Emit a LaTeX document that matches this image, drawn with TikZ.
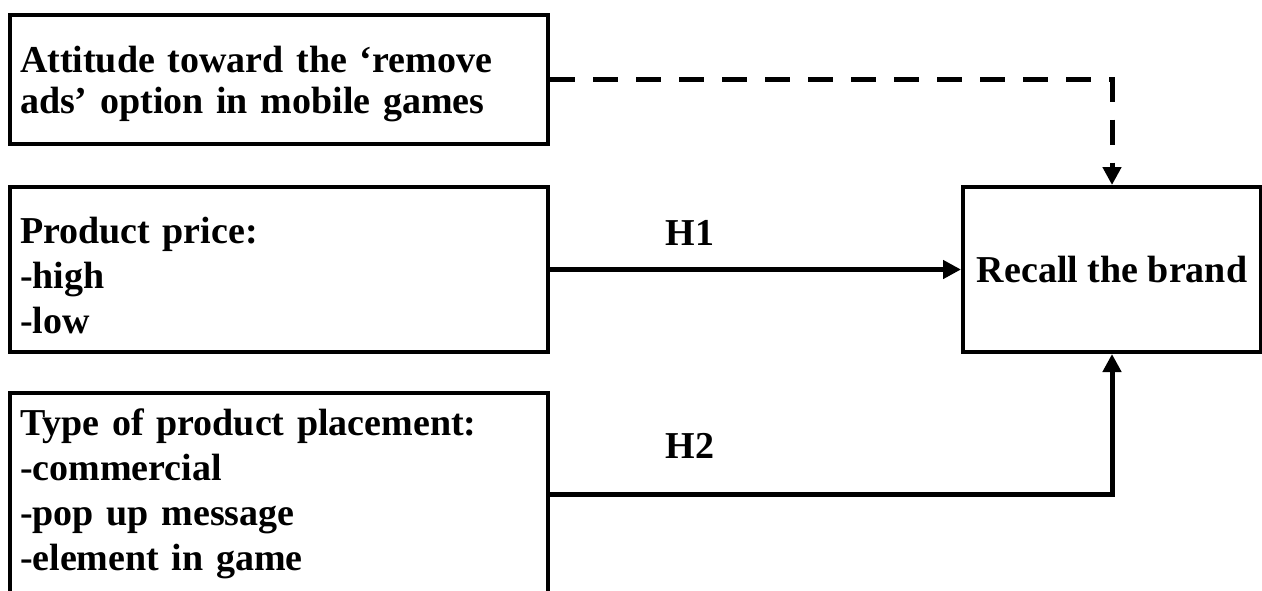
\documentclass[tikz,border=0pt]{standalone}
\usepackage{fontspec}
\setmainfont{Liberation Serif}
\usetikzlibrary{arrows.meta}

\begin{document}
\begin{tikzpicture}[
        x=0.5pt, y=-0.5pt,
        every node/.style={font=\fontsize{19}{22.5}\selectfont\bfseries},
        box/.style={draw, line width=2pt, align=left, inner xsep=5pt, text width=259pt, minimum height=#1},
        outcome/.style={draw, line width=2pt, align=center, inner xsep=1pt, minimum width=149pt, minimum height=82.5pt},
        link/.style={line width=2.5pt, -{Triangle[length=9pt, width=9pt]}},
        moderator/.style={link, dash pattern=on 12.5pt off 9pt}
      ]

      \useasboundingbox (0,0) rectangle (1262,590);
      \clip (0,0) rectangle (1262,590);

      \node[box=64.5pt, font=\fontsize{19}{20.5}\selectfont\bfseries] (attitude) at (279,79.5) {\rule{0pt}{18pt}Attitude toward the ‘remove\\ ads’ option in mobile games};
      \node[box=82.5pt] (price) at (279,269.5) {\rule{0pt}{19pt}Product price:\\ -high\\ -low};
      \node[box=101pt] (placement) at (279,494) {Type of product placement:\\ -commercial\\ -pop up message\\ -element in game};
      \node[outcome] (recall) at (1112,269.5) {Recall the brand};

      \draw[moderator] (attitude.east) -| (recall.north);
      \draw[link] (price.east) -- (recall.west);
      \draw[link] (placement.east) -| (recall.south);

      \node (h1) at (690,233) {H1};
      \node (h2) at (690,446) {H2};

      \end{tikzpicture}
\end{document}
